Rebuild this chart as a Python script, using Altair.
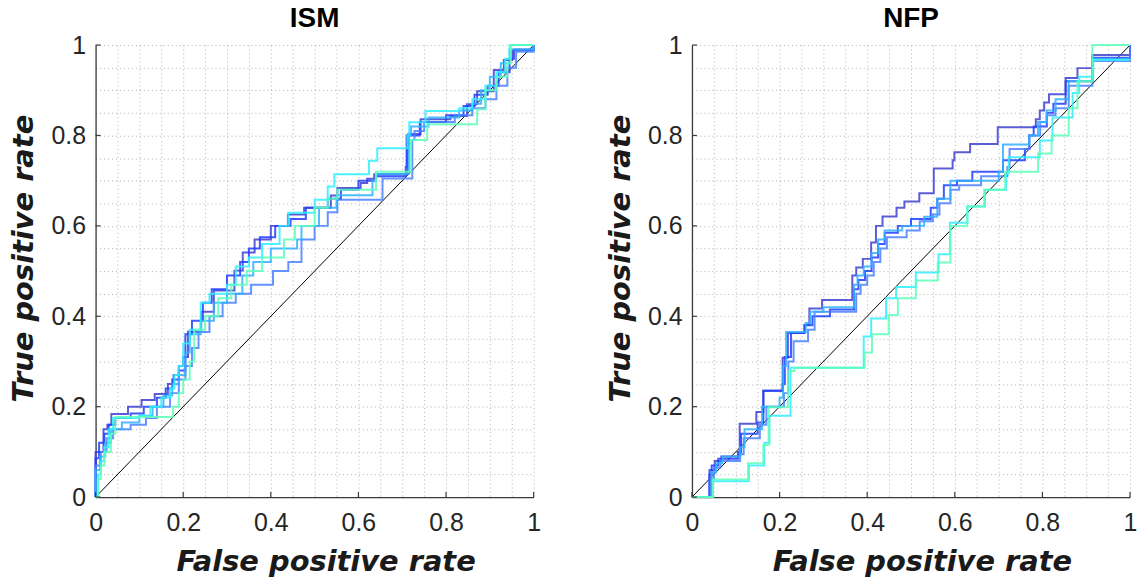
import altair as alt
import pandas as pd

# ---------------- data ----------------
series_names = ["s1", "s2", "s3", "s4", "s5", "s6"]
series_colors = ["#3f3fd0", "#1f3dff", "#4a80ff", "#2fb0ff", "#2ff0ff", "#5cffb8"]

tick_values = [0, 0.2, 0.4, 0.6, 0.8, 1]
grid_values = [0, 0.05, 0.1, 0.15, 0.2, 0.25, 0.3, 0.35, 0.4, 0.45, 0.5,
               0.55, 0.6, 0.65, 0.7, 0.75, 0.8, 0.85, 0.9, 0.95, 1]
diag_fpr = [0, 1]
diag_tpr = [0, 1]

# ISM panel
ism_s1_fpr = [0, 0, 0.018, 0.027, 0.036, 0.074, 0.105, 0.135, 0.165, 0.178, 0.19, 0.2, 0.211, 0.241, 0.27, 0.317, 0.336, 0.363, 0.4, 0.439, 0.476, 0.537, 0.552, 0.605, 0.62, 0.636, 0.712, 0.714, 0.742, 0.81, 0.848, 0.871, 0.909, 0.932, 0.951, 1.0]
ism_s1_tpr = [0, 0.1, 0.15, 0.16, 0.184, 0.2, 0.215, 0.228, 0.25, 0.27, 0.29, 0.31, 0.366, 0.41, 0.457, 0.501, 0.541, 0.57, 0.6, 0.625, 0.64, 0.667, 0.684, 0.695, 0.704, 0.714, 0.78, 0.803, 0.836, 0.843, 0.869, 0.898, 0.945, 0.967, 0.989, 1.0]

ism_s2_fpr = [0, 0, 0.008, 0.02, 0.03, 0.045, 0.08, 0.11, 0.14, 0.16, 0.175, 0.19, 0.205, 0.22, 0.245, 0.265, 0.3, 0.33, 0.35, 0.375, 0.41, 0.445, 0.48, 0.53, 0.56, 0.6, 0.64, 0.708, 0.71, 0.74, 0.8, 0.84, 0.865, 0.895, 0.92, 0.945, 0.955, 1.0]
ism_s2_tpr = [0, 0.086, 0.12, 0.14, 0.16, 0.175, 0.185, 0.2, 0.22, 0.24, 0.26, 0.28, 0.36, 0.39, 0.43, 0.46, 0.49, 0.52, 0.55, 0.575, 0.6, 0.615, 0.64, 0.66, 0.68, 0.7, 0.71, 0.73, 0.8, 0.83, 0.845, 0.865, 0.89, 0.91, 0.94, 0.97, 0.99, 1.0]

ism_s3_fpr = [0, 0, 0.012, 0.025, 0.04, 0.08, 0.115, 0.14, 0.17, 0.19, 0.205, 0.22, 0.235, 0.26, 0.29, 0.32, 0.355, 0.405, 0.44, 0.47, 0.5, 0.53, 0.552, 0.655, 0.723, 0.728, 0.75, 0.82, 0.86, 0.89, 0.915, 0.94, 0.96, 1.0]
ism_s3_tpr = [0, 0.07, 0.1, 0.13, 0.15, 0.16, 0.175, 0.2, 0.23, 0.26, 0.29, 0.33, 0.365, 0.4, 0.43, 0.45, 0.47, 0.5, 0.52, 0.57, 0.6, 0.63, 0.658, 0.705, 0.79, 0.81, 0.83, 0.845, 0.86, 0.88, 0.91, 0.95, 0.985, 1.0]

ism_s4_fpr = [0, 0, 0.01, 0.022, 0.035, 0.06, 0.1, 0.13, 0.155, 0.175, 0.19, 0.205, 0.215, 0.24, 0.27, 0.3, 0.335, 0.36, 0.4, 0.46, 0.47, 0.51, 0.55, 0.632, 0.64, 0.715, 0.72, 0.76, 0.83, 0.86, 0.88, 0.9, 0.925, 0.945, 1.0]
ism_s4_tpr = [0, 0.06, 0.09, 0.12, 0.15, 0.165, 0.18, 0.2, 0.225, 0.25, 0.27, 0.32, 0.36, 0.39, 0.43, 0.45, 0.49, 0.52, 0.55, 0.57, 0.6, 0.64, 0.668, 0.7, 0.715, 0.8, 0.82, 0.84, 0.855, 0.87, 0.9, 0.93, 0.96, 0.99, 1.0]

ism_s5_fpr = [0, 0.006, 0.012, 0.02, 0.03, 0.04, 0.1, 0.125, 0.15, 0.17, 0.18, 0.19, 0.2, 0.215, 0.24, 0.26, 0.3, 0.32, 0.35, 0.38, 0.42, 0.44, 0.5, 0.53, 0.545, 0.624, 0.643, 0.712, 0.716, 0.753, 0.83, 0.86, 0.89, 0.915, 0.935, 0.945, 1.0]
ism_s5_tpr = [0, 0.05, 0.08, 0.11, 0.15, 0.175, 0.18, 0.2, 0.22, 0.24, 0.27, 0.29, 0.34, 0.37, 0.43, 0.45, 0.47, 0.51, 0.53, 0.56, 0.6, 0.629, 0.658, 0.687, 0.714, 0.744, 0.772, 0.8, 0.829, 0.854, 0.86, 0.88, 0.91, 0.94, 0.97, 1.0, 1.0]

ism_s6_fpr = [0, 0.005, 0.012, 0.02, 0.035, 0.045, 0.177, 0.19, 0.2, 0.215, 0.225, 0.25, 0.28, 0.31, 0.345, 0.38, 0.43, 0.455, 0.5, 0.53, 0.552, 0.64, 0.72, 0.757, 0.871, 0.89, 0.915, 0.94, 0.948, 1.0]
ism_s6_tpr = [0, 0.04, 0.07, 0.1, 0.14, 0.177, 0.2, 0.23, 0.26, 0.3, 0.37, 0.4, 0.44, 0.47, 0.5, 0.53, 0.57, 0.6, 0.64, 0.66, 0.68, 0.72, 0.79, 0.825, 0.858, 0.9, 0.93, 0.96, 1.0, 1.0]

# NFP panel
nfp_s1_fpr = [0, 0.04, 0.052, 0.067, 0.109, 0.147, 0.163, 0.207, 0.219, 0.257, 0.268, 0.297, 0.366, 0.375, 0.39, 0.409, 0.42, 0.435, 0.467, 0.485, 0.519, 0.552, 0.595, 0.599, 0.635, 0.698, 0.785, 0.794, 0.804, 0.815, 0.853, 0.88, 0.914, 1.0]
nfp_s1_tpr = [0, 0.06, 0.08, 0.09, 0.162, 0.188, 0.235, 0.308, 0.363, 0.381, 0.417, 0.436, 0.49, 0.508, 0.527, 0.563, 0.6, 0.621, 0.64, 0.654, 0.672, 0.727, 0.745, 0.763, 0.781, 0.818, 0.836, 0.855, 0.873, 0.891, 0.927, 0.949, 0.978, 1.0]

nfp_s2_fpr = [0, 0.04, 0.045, 0.06, 0.105, 0.112, 0.15, 0.163, 0.207, 0.212, 0.226, 0.257, 0.275, 0.315, 0.37, 0.38, 0.395, 0.41, 0.425, 0.44, 0.47, 0.5, 0.545, 0.56, 0.575, 0.605, 0.64, 0.71, 0.76, 0.77, 0.78, 0.81, 0.825, 0.853, 0.914, 1.0]
nfp_s2_tpr = [0, 0.05, 0.07, 0.085, 0.1, 0.14, 0.165, 0.235, 0.25, 0.31, 0.363, 0.38, 0.4, 0.415, 0.46, 0.48, 0.5, 0.53, 0.56, 0.585, 0.6, 0.615, 0.64, 0.66, 0.69, 0.7, 0.72, 0.745, 0.77, 0.8, 0.82, 0.85, 0.87, 0.92, 0.972, 1.0]

nfp_s3_fpr = [0, 0.042, 0.05, 0.065, 0.11, 0.118, 0.155, 0.17, 0.21, 0.22, 0.232, 0.265, 0.28, 0.375, 0.385, 0.4, 0.415, 0.43, 0.445, 0.49, 0.52, 0.55, 0.565, 0.59, 0.61, 0.66, 0.72, 0.725, 0.77, 0.795, 0.81, 0.83, 0.86, 0.914, 1.0]
nfp_s3_tpr = [0, 0.04, 0.065, 0.08, 0.095, 0.13, 0.16, 0.2, 0.23, 0.3, 0.345, 0.37, 0.41, 0.45, 0.47, 0.49, 0.52, 0.55, 0.575, 0.59, 0.61, 0.625, 0.65, 0.68, 0.69, 0.71, 0.73, 0.77, 0.8, 0.83, 0.845, 0.86, 0.91, 0.965, 1.0]

nfp_s4_fpr = [0, 0.045, 0.055, 0.07, 0.11, 0.12, 0.16, 0.2, 0.208, 0.215, 0.26, 0.27, 0.3, 0.37, 0.378, 0.392, 0.41, 0.425, 0.44, 0.48, 0.53, 0.56, 0.59, 0.7, 0.71, 0.77, 0.79, 0.81, 0.83, 0.86, 0.914, 1.0]
nfp_s4_tpr = [0, 0.055, 0.075, 0.09, 0.11, 0.15, 0.2, 0.22, 0.29, 0.365, 0.385, 0.41, 0.42, 0.47, 0.49, 0.51, 0.54, 0.57, 0.59, 0.6, 0.62, 0.66, 0.7, 0.72, 0.78, 0.8, 0.83, 0.855, 0.88, 0.92, 0.97, 0.97]

nfp_s5_fpr = [0, 0.048, 0.13, 0.165, 0.177, 0.225, 0.392, 0.409, 0.443, 0.466, 0.511, 0.563, 0.589, 0.629, 0.669, 0.717, 0.723, 0.794, 0.823, 0.869, 0.884, 0.916, 1.0]
nfp_s5_tpr = [0, 0.035, 0.07, 0.12, 0.18, 0.286, 0.355, 0.395, 0.44, 0.465, 0.497, 0.537, 0.607, 0.643, 0.68, 0.716, 0.752, 0.789, 0.84, 0.894, 0.93, 0.967, 0.967]

nfp_s6_fpr = [0, 0.048, 0.128, 0.163, 0.175, 0.219, 0.234, 0.394, 0.411, 0.449, 0.47, 0.511, 0.561, 0.59, 0.628, 0.667, 0.715, 0.79, 0.821, 0.86, 0.88, 0.914, 1.0]
nfp_s6_tpr = [0, 0.039, 0.075, 0.115, 0.199, 0.279, 0.286, 0.32, 0.36, 0.403, 0.44, 0.479, 0.519, 0.6, 0.643, 0.68, 0.72, 0.76, 0.8, 0.86, 0.92, 1.0, 1.0]

ism_series = [
    ("s1", ism_s1_fpr, ism_s1_tpr), ("s2", ism_s2_fpr, ism_s2_tpr),
    ("s3", ism_s3_fpr, ism_s3_tpr), ("s4", ism_s4_fpr, ism_s4_tpr),
    ("s5", ism_s5_fpr, ism_s5_tpr), ("s6", ism_s6_fpr, ism_s6_tpr),
]
nfp_series = [
    ("s1", nfp_s1_fpr, nfp_s1_tpr), ("s2", nfp_s2_fpr, nfp_s2_tpr),
    ("s3", nfp_s3_fpr, nfp_s3_tpr), ("s4", nfp_s4_fpr, nfp_s4_tpr),
    ("s5", nfp_s5_fpr, nfp_s5_tpr), ("s6", nfp_s6_fpr, nfp_s6_tpr),
]


def curves_df(series):
    rows = []
    for name, fpr, tpr in series:
        assert len(fpr) == len(tpr), name
        for i, (x, y) in enumerate(zip(fpr, tpr)):
            rows.append({"series": name, "i": i, "fpr": x, "tpr": y})
    return pd.DataFrame(rows)


# ---------------- chart ----------------
W, H = 440, 454
TICK_LEN = 5
scale01 = alt.Scale(domain=[0, 1], nice=False, zero=False)

label_expr = "(round(datum.value * 100) % 20 == 0) ? format(datum.value, '~g') : ''"

common_axis = dict(
    values=grid_values, labelExpr=label_expr, labelOverlap=False, labelFlush=False,
    ticks=False, grid=True, gridDash=[1, 3], gridColor="#b0b0b0", gridWidth=1,
    labelFont="Liberation Sans", labelFontSize=25, labelColor="#262626",
    domainColor="#3a3a3a", domainWidth=1.3,
    titleFont="DejaVu Sans", titleFontSize=29, titleFontStyle="italic",
    titleFontWeight="bold", titleColor="#1a1a1a",
)
x_axis = alt.Axis(title="False positive rate", labelPadding=14, titlePadding=10,
                  minExtent=41, maxExtent=41, titleX=W / 2 + 11, **common_axis)
y_axis = alt.Axis(title="True positive rate", labelPadding=10, titlePadding=10,
                  minExtent=47, maxExtent=47, titleY=H / 2 - 13, **common_axis)


def panel(title, series):
    df = curves_df(series)
    diag = pd.DataFrame({"fpr": diag_fpr, "tpr": diag_tpr})
    ticks = pd.DataFrame({"t": tick_values})

    xenc = alt.X("fpr:Q", scale=scale01, axis=x_axis)
    yenc = alt.Y("tpr:Q", scale=scale01, axis=y_axis)

    diag_line = alt.Chart(diag).mark_line(color="black", strokeWidth=1).encode(x=xenc, y=yenc)

    curves = alt.Chart(df).mark_line(interpolate="step-after", strokeWidth=2, opacity=0.85).encode(
        x=xenc, y=yenc,
        color=alt.Color("series:N", scale=alt.Scale(domain=series_names, range=series_colors), legend=None),
        detail="series:N",
        order=alt.Order("i:Q"),
    )

    xticks = alt.Chart(ticks).mark_rule(color="#3a3a3a", strokeWidth=1.2).encode(
        x=alt.X("t:Q", scale=scale01, axis=x_axis),
        y=alt.value(H), y2=alt.value(H - TICK_LEN),
    )
    yticks = alt.Chart(ticks).mark_rule(color="#3a3a3a", strokeWidth=1.2).encode(
        y=alt.Y("t:Q", scale=scale01, axis=y_axis),
        x=alt.value(0), x2=alt.value(TICK_LEN),
    )

    return alt.layer(diag_line, curves, xticks, yticks).properties(
        width=W, height=H,
        title=alt.TitleParams(text=title, font="Liberation Sans", fontSize=28,
                              fontWeight="bold", color="black", offset=0, anchor="middle"),
    )


chart = alt.hconcat(panel("ISM", ism_series), panel("NFP", nfp_series), spacing=66).properties(
    padding={"left": 10, "top": 4, "right": 0, "bottom": 0}
).configure_view(stroke=None)

chart.save("out.html", embed_options={"renderer": "svg", "actions": False})
